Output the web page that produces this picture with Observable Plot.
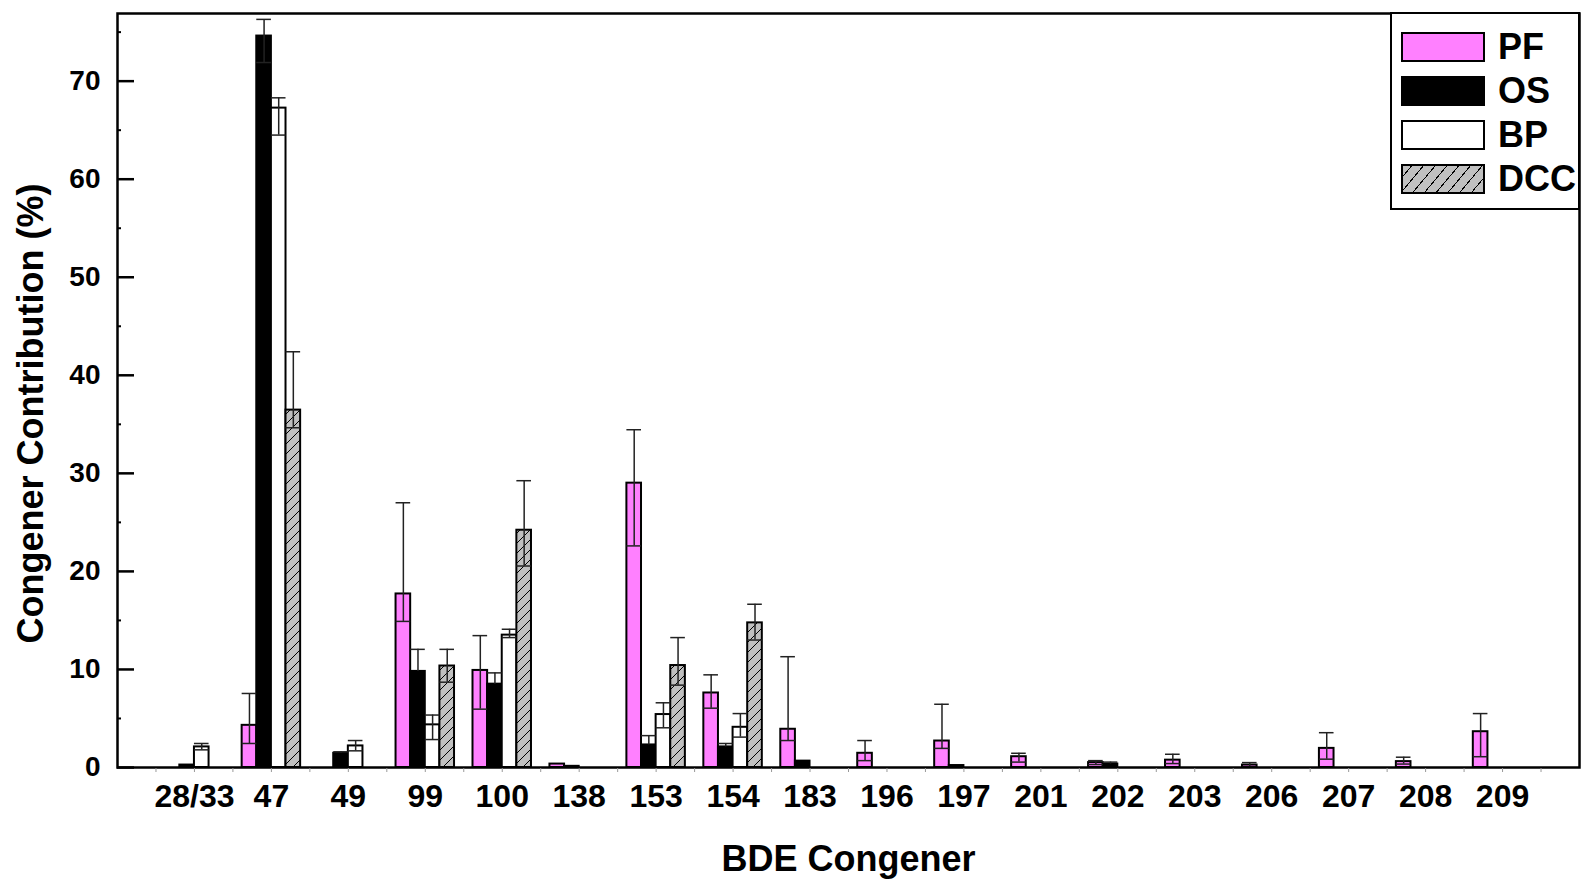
<!DOCTYPE html>
<html>
<head>
<meta charset="utf-8">
<script src="https://cdn.jsdelivr.net/npm/d3@7"></script>
<script src="https://cdn.jsdelivr.net/npm/@observablehq/plot@0.6"></script>
<style>
  html, body { margin: 0; padding: 0; background: #fff; }
  #chart { position: relative; width: 1585px; height: 879px; font-family: "Liberation Sans", Arial, Helvetica, sans-serif; }
  #chart svg { display: block; }
  .legend { position: absolute; left: 1390px; top: 12px; width: 190px; height: 198px; box-sizing: border-box;
            border: 2px solid #000; background: #fff; }
  .legend .row { position: absolute; left: 9px; height: 30px; display: flex; align-items: center; }
  .legend .sw { width: 84px; height: 30px; box-sizing: border-box; border: 2px solid #000; }
  .legend .lab { margin-left: 13px; font-size: 36px; font-weight: bold; color: #000; line-height: 30px; }
</style>
</head>
<body>
<div id="chart"></div>
<script>
// BDE congeners on the x axis
const categories = ["28/33", "47", "49", "99", "100", "138", "153", "154", "183", "196", "197", "201", "202", "203", "206", "207", "208", "209"];

// Congener contribution (%) with upper / lower error-bar ends for each profile
const pfValues = [0, 4.3, 0, 17.7, 9.9, 0.35, 29.0, 7.6, 3.9, 1.45, 2.7, 1.1, 0.5, 0.75, 0.25, 1.95, 0.6, 3.65];
const pfHigh   = [null, 7.55, null, 27.0, 13.45, null, 34.45, 9.45, 11.3, 2.75, 6.45, 1.45, 0.7, 1.35, 0.5, 3.55, 1.05, 5.5];
const pfLow    = [null, 2.45, null, 14.9, 5.95, null, 22.6, 6.05, 2.75, 0.7, 1.95, 0.55, 0.3, 0.4, 0.05, 0.85, 0.35, 1.1];

const osValues = [0.25, 74.6, 1.45, 9.8, 8.5, 0.12, 2.3, 2.1, 0.65, 0, 0.2, 0, 0.35, 0, 0, 0, 0, 0];
const osHigh   = [null, 76.3, 1.6, 12.05, 9.65, null, 3.25, 2.45, null, null, null, null, 0.55, null, null, null, null, null];
const osLow    = [null, 71.9, null, null, null, null, null, null, null, null, null, null, null, null, null, null, null, null];

const bpValues = [2.1, 67.25, 2.2, 4.35, 13.5, 0, 5.4, 4.1, 0, 0, 0, 0, 0, 0, 0, 0, 0, 0];
const bpHigh   = [2.45, 68.3, 2.75, 5.35, 14.1, null, 6.6, 5.5, null, null, null, null, null, null, null, null, null, null];
const bpLow    = [1.8, 64.5, 1.7, 2.85, 13.25, null, 4.05, 3.1, null, null, null, null, null, null, null, null, null, null];

const dccValues = [0, 36.45, 0, 10.35, 24.2, 0, 10.4, 14.75, 0, 0, 0, 0, 0, 0, 0, 0, 0, 0];
const dccHigh   = [null, 42.4, null, 12.05, 29.25, null, 13.25, 16.65, null, null, null, null, null, null, null, null, null, null];
const dccLow    = [null, 34.65, null, 8.7, 20.55, null, 8.4, 13.0, null, null, null, null, null, null, null, null, null, null];

const seriesNames = ["PF", "OS", "BP", "DCC"];
const yMajorTicks = [0, 10, 20, 30, 40, 50, 60, 70];
const yMinorTicks = [5, 15, 25, 35, 45, 55, 65, 75];

// styling per series
const fills = {PF: "#FF80FF", OS: "#000000", BP: "#FFFFFF", DCC: "url(#dcc-hatch)"};
const barW = 0.19;   // bar width in category steps

const series = [
  {name: "PF", values: pfValues, high: pfHigh, low: pfLow},
  {name: "OS", values: osValues, high: osHigh, low: osLow},
  {name: "BP", values: bpValues, high: bpHigh, low: bpLow},
  {name: "DCC", values: dccValues, high: dccHigh, low: dccLow}
];

const bars = series.flatMap((s, k) => s.values.map((v, i) => ({
  series: s.name, i, value: v, high: s.high[i], low: s.low[i],
  pos: i + (k - 1.5) * barW
}))).filter(d => d.value > 0);

const errs = bars.filter(d => d.high != null);
const lowCaps = errs.filter(d => d.low != null);

// hatch pattern definition for the DCC bars
const hatchDefs = () => {
  const defs = d3.create("svg:defs");
  const p = defs.append("pattern")
    .attr("id", "dcc-hatch").attr("patternUnits", "userSpaceOnUse")
    .attr("width", 10).attr("height", 10);
  p.append("rect").attr("width", 10).attr("height", 10).attr("fill", "#C0C0C0");
  p.append("path").attr("d", "M-1,1 L1,-1 M0,10 L10,0 M9,11 L11,9")
    .attr("stroke", "#000").attr("stroke-width", 1);
  return defs.node();
};

const font = {fontWeight: "bold"};

const chart = Plot.plot({
  width: 1585,
  height: 879,
  marginLeft: 117,
  marginRight: 6,
  marginTop: 13,
  marginBottom: 112,
  style: {fontFamily: "'Liberation Sans', Arial, Helvetica, sans-serif", color: "#000", background: "#fff"},
  x: {type: "linear", domain: [-1, 18]},
  y: {domain: [0, 76.9]},
  marks: [
    hatchDefs,
    // bars, one mark per profile
    ...seriesNames.map(name => Plot.rect(bars.filter(d => d.series === name), {
      x1: d => d.pos - barW / 2,
      x2: d => d.pos + barW / 2,
      y1: () => 0,
      y2: "value",
      fill: fills[name],
      stroke: "#000",
      strokeWidth: 2
    })),
    // error bars
    Plot.ruleX(errs, {x: "pos", y1: d => d.low ?? d.value, y2: "high", stroke: "#222", strokeWidth: 1.5}),
    Plot.ruleY(errs, {y: "high", x1: d => d.pos - barW / 2, x2: d => d.pos + barW / 2, stroke: "#222", strokeWidth: 1.5}),
    Plot.ruleY(lowCaps, {y: "low", x1: d => d.pos - barW / 2, x2: d => d.pos + barW / 2, stroke: "#222", strokeWidth: 1.5}),
    // frame
    Plot.frame({stroke: "#000", strokeWidth: 2.5}),
    // y axis: labels, inward major and minor ticks
    Plot.axisY(yMajorTicks, {anchor: "left", tickSize: 0, tickPadding: 17, fontSize: 28, ...font, label: null}),
    Plot.axisY(yMajorTicks, {anchor: "left", tickSize: 17, dx: 17, fill: "none", strokeWidth: 2.5, label: null}),
    Plot.axisY(yMinorTicks, {anchor: "left", tickSize: 4, dx: 4, fill: "none", strokeWidth: 2, label: null}),
    // x axis: category labels and small ticks
    Plot.axisX(d3.range(categories.length), {anchor: "bottom", tickSize: 0, tickPadding: 17, tickFormat: i => categories[i], fontSize: 32, ...font, label: null}),
    Plot.axisX(d3.range(-0.5, 18, 0.5), {anchor: "bottom", tickSize: 4, dy: 1, fill: "none", stroke: "#999", strokeWidth: 1, label: null}),
    // axis titles
    Plot.text(["BDE Congener"], {frameAnchor: "bottom", dy: 103, fontSize: 36, ...font}),
    Plot.text(["Congener Contribution (%)"], {frameAnchor: "left", textAnchor: "middle", rotate: -90, dx: -86, dy: 23, fontSize: 36, ...font})
  ]
});

const root = document.getElementById("chart");
root.appendChild(chart);

// legend in the upper right corner of the plot frame
const legend = d3.select(root).append("div").attr("class", "legend");
const rowTops = [18, 62, 106, 150];
const swatchStyle = {
  PF: "background:#FF80FF",
  OS: "background:#000",
  BP: "background:#fff",
  DCC: "background:repeating-linear-gradient(-50deg, #C0C0C0 0px, #C0C0C0 8px, #000 8px, #000 9px)"
};
seriesNames.forEach((name, k) => {
  const row = legend.append("div").attr("class", "row").style("top", rowTops[k] + "px");
  row.append("div").attr("class", "sw").attr("style", swatchStyle[name]);
  row.append("div").attr("class", "lab").text(name);
});
</script>
</body>
</html>
